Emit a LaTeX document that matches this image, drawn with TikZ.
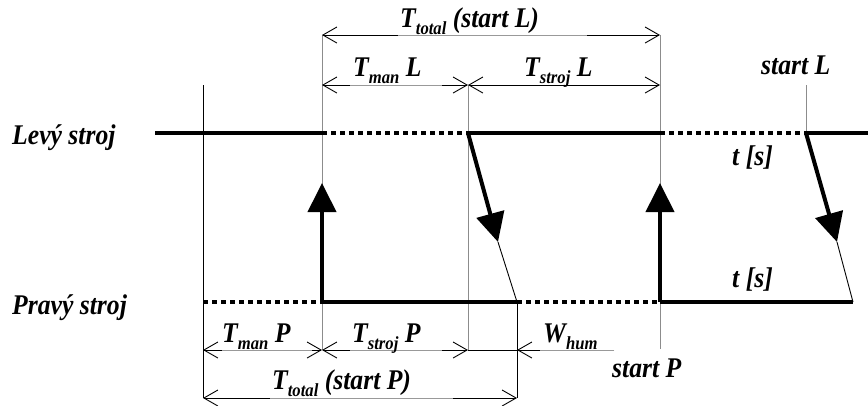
\documentclass[tikz,border=0pt]{standalone}
\usepackage{fontspec}
\usepackage{graphicx}
\setmainfont{Liberation Serif}
\usetikzlibrary{arrows.meta}
\newcommand\subs[1]{\raisebox{-0.28em}{\fontsize{18.5}{18.5}\selectfont #1}}
\newcommand\lbtext[1]{\scalebox{0.9}[1]{\fontsize{28.5}{28.5}\selectfont\bfseries\itshape #1}}
\begin{document}
\begin{tikzpicture}[x=1pt,y=-1pt,
  lbl/.style={anchor=base west,inner sep=0pt},
  solidline/.style={line width=4.5pt},
  dotline/.style={line width=4.5pt,dash pattern=on 5pt off 4pt},
  guidegray/.style={draw=gray!90,line width=1pt},
  guideblack/.style={draw=black,line width=1pt},
  dimline/.style={line width=0.9pt,{Straight Barb[length=14pt,width=16pt]}-{Straight Barb[length=14pt,width=16pt]}},
  dimhalf/.style={line width=0.9pt,-{Straight Barb[length=14pt,width=16pt]}},
  dimgray/.style={draw=gray!80,line width=0.9pt},
  bigarrow/.style={line width=4pt,-{Triangle[length=29pt,width=28pt]}},
  thinline/.style={line width=0.9pt}]
\useasboundingbox (0,0) rectangle (868,405);
% coordinates
\coordinate (L0) at (155,133);
\coordinate (L1) at (322,133);
\coordinate (L2) at (468,133);
\coordinate (L3) at (660,133);
\coordinate (L4) at (806,133);
\coordinate (L5) at (868,133);
\coordinate (P0) at (203,302);
\coordinate (P1) at (322,302);
\coordinate (P2) at (517,302);
\coordinate (P3) at (660,302);
\coordinate (P4) at (853,302);
% guide lines
\draw[guideblack] (203,85) -- (203,398);
\draw[guidegray] (322,35) -- (322,350);
\draw[guidegray] (468,85) -- (468,350);
\draw[guidegray] (660,35) -- (660,349);
\draw[guidegray] (806,85) -- (L4);
\draw[guideblack] (P2) -- (517,398);
% time lines
\draw[solidline] (L0) -- (L1);
\draw[dotline] (L1) -- (L2);
\draw[solidline] (L2) -- (L3);
\draw[dotline] (L3) -- (L4);
\draw[solidline] (L4) -- (L5);
\draw[dotline] (P0) -- (P1);
\draw[solidline] (P1) -- (P2);
\draw[dotline] (P2) -- (P3);
\draw[solidline] (P3) -- (P4);
% up arrows
\draw[bigarrow] (P1) -- (322,183);
\draw[bigarrow] (P3) -- (660,183);
% diagonal arrows
\coordinate (D1) at (498,242);
\coordinate (D2) at (837,242);
\draw[bigarrow] (L2) -- (D1);
\draw[thinline] (D1) -- (P2);
\draw[bigarrow] (L4) -- (D2);
\draw[thinline] (D2) -- (P4);
% dimension lines top
\draw[dimline] (322,35) -- (660,35);
\draw[dimgray] (398,35) -- (587,35);
\draw[dimline] (322,85) -- (468,85);
\draw[dimgray] (350,85) -- (442,85);
\draw[dimline] (468,85) -- (660,85);
% dimension lines bottom
\draw[dimline] (203,350) -- (322,350);
\draw[dimgray] (222,350) -- (312,350);
\draw[dimline] (322,350) -- (468,350);
\draw[dimgray] (350,350) -- (442,350);
\draw[thinline] (468,350) -- (517,350);
\draw[dimhalf] (614,350) -- (517,350);
\draw[dimgray] (540,350) -- (614,350);
\draw[dimline] (203,398) -- (517,398);
\draw[dimgray] (270,398) -- (453,398);
% labels
\node[lbl] (tl) at (400,27) {\lbtext{T\subs{total} (start L)}};
\node[lbl] (tml) at (353,76) {\lbtext{T\subs{man} L}};
\node[lbl] (tsl) at (524,76) {\lbtext{T\subs{stroj} L}};
\node[lbl] (stl) at (761,74) {\lbtext{start L}};
\node[lbl] (lev) at (12,144) {\lbtext{Levý stroj}};
\node[lbl] (prav) at (12,314) {\lbtext{Pravý stroj}};
\node[lbl] (ts1) at (732,165) {\lbtext{t [s]}};
\node[lbl] (ts2) at (732,287) {\lbtext{t [s]}};
\node[lbl] (tmp) at (222,342) {\lbtext{T\subs{man} P}};
\node[lbl] (tsp) at (352,342) {\lbtext{T\subs{stroj} P}};
\node[lbl] (wh) at (543,342) {\lbtext{W\subs{hum}}};
\node[lbl] (stp) at (612,377) {\lbtext{start P}};
\node[lbl] (ttp) at (272,389) {\lbtext{T\subs{total} (start P)}};
\end{tikzpicture}
\end{document}
